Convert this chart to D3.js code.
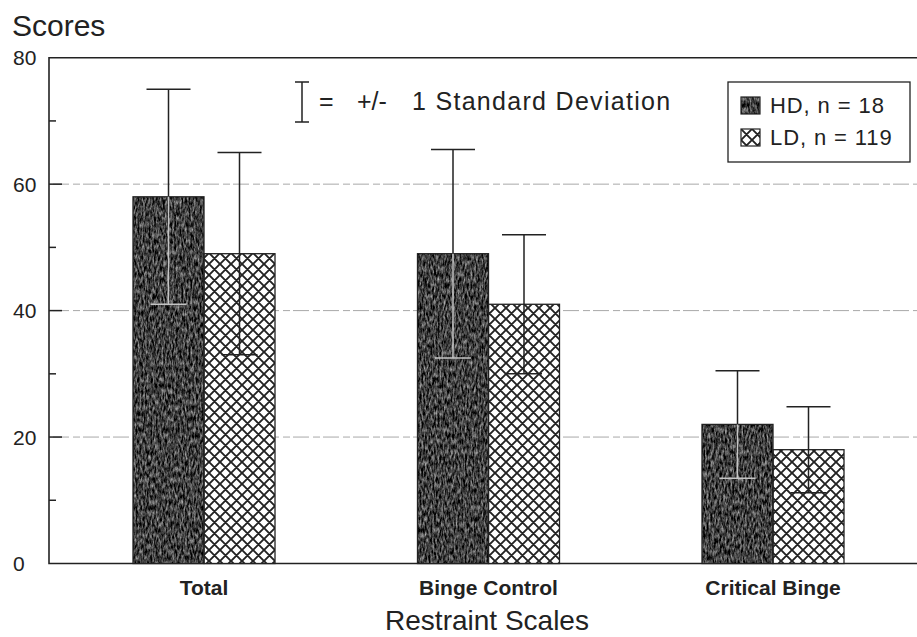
<!DOCTYPE html>
<html><head><meta charset="utf-8">
<script src="https://cdn.jsdelivr.net/npm/d3@7"></script>
<style>body{margin:0;background:#fff}svg{display:block}</style>
</head><body>
<script>
const categories = ["Total", "Binge Control", "Critical Binge"];
const seriesNames = ["HD, n = 18", "LD, n = 119"];
const hdMeans = [58, 49, 22];
const hdSD = [17, 16.5, 8.5];
const ldMeans = [49, 41, 18];
const ldSD = [16, 11, 6.8];
const yTicks = [0, 20, 40, 60, 80];
const yMinorTicks = [10, 30, 50, 70];
const gridValues = [20, 40, 60];

const W = 917, H = 637;
const svg = d3.select("body").append("svg").attr("width", W).attr("height", H);
const defs = svg.append("defs");

// noisy dark texture
const f = defs.append("filter").attr("id", "noise").attr("x", 0).attr("y", 0).attr("width", 1).attr("height", 1)
  .attr("color-interpolation-filters", "sRGB");
f.append("feTurbulence").attr("type", "fractalNoise").attr("baseFrequency", "0.55 0.18").attr("numOctaves", 3).attr("seed", 5).attr("result", "t");
f.append("feColorMatrix").attr("in", "t").attr("type", "matrix")
  .attr("values", "1.1 0 0 0 -0.3  1.1 0 0 0 -0.3  1.1 0 0 0 -0.3  0 0 0 0 1").attr("result", "n");
f.append("feComposite").attr("in", "n").attr("in2", "SourceGraphic").attr("operator", "in");

// crosshatch
const p = defs.append("pattern").attr("id", "hatch").attr("patternUnits", "userSpaceOnUse")
  .attr("width", 11).attr("height", 11);
p.append("rect").attr("width", 11).attr("height", 11).attr("fill", "#fff");
p.append("path").attr("d", "M-1,1 L1,-1 M0,11 L11,0 M10,12 L12,10 M-1,10 L1,12 M0,0 L11,11 M10,-1 L12,1")
  .attr("stroke", "#222").attr("stroke-width", 1.9);

const plotL = 49, plotR = 917, plotT = 57.7, plotB = 563.5;
const y = d3.scaleLinear().domain([0, 80]).range([plotB, plotT]);
const x0 = d3.scalePoint().domain(categories).range([204, 773]);
const x1 = d3.scaleBand().domain(seriesNames).range([-71, 71]).padding(0);

const sans = "Liberation Sans, Arial, sans-serif";

// gridlines
svg.append("g").selectAll("line").data(gridValues).join("line")
  .attr("x1", plotL + 4).attr("x2", plotR).attr("y1", d => y(d)).attr("y2", d => y(d))
  .attr("stroke", "#a8a8a8").attr("stroke-width", 1).attr("stroke-dasharray", "16,4,7,3");

// frame
svg.append("path").attr("d", `M${plotR},${plotT}H${plotL}V${plotB}H${plotR}`)
  .attr("fill", "none").attr("stroke", "#222").attr("stroke-width", 1.6);

// ticks
svg.append("g").selectAll("line").data(yTicks.filter(d => d > 0 && d < 80)).join("line")
  .attr("x1", plotL).attr("x2", plotL + 13).attr("y1", d => y(d)).attr("y2", d => y(d))
  .attr("stroke", "#222").attr("stroke-width", 1.5);
svg.append("g").selectAll("line").data(yMinorTicks).join("line")
  .attr("x1", plotL).attr("x2", plotL + 7).attr("y1", d => y(d)).attr("y2", d => y(d))
  .attr("stroke", "#222").attr("stroke-width", 1.5);
svg.append("g").selectAll("text").data(yTicks).join("text")
  .attr("x", 13).attr("y", d => y(d)).attr("dy", "0.36em")
  .attr("font-family", sans).attr("font-size", 21).attr("fill", "#222")
  .text(d => d);

svg.append("text").attr("x", 12).attr("y", 36)
  .attr("font-family", sans).attr("font-size", 30).attr("fill", "#222")
  .text("Scores");

// bars
const rows = categories.map((c, i) => [
  { cat: c, s: seriesNames[0], v: hdMeans[i], sd: hdSD[i], k: 0 },
  { cat: c, s: seriesNames[1], v: ldMeans[i], sd: ldSD[i], k: 1 }
]).flat();

const bars = svg.append("g");
bars.selectAll("rect.b").data(rows).join("rect").attr("class", "b")
  .attr("x", d => x0(d.cat) + x1(d.s)).attr("width", x1.bandwidth())
  .attr("y", d => y(d.v)).attr("height", d => y(0) - y(d.v))
  .attr("fill", d => d.k === 0 ? "#333" : "url(#hatch)")
  .attr("filter", d => d.k === 0 ? "url(#noise)" : null);
bars.selectAll("rect.o").data(rows).join("rect").attr("class", "o")
  .attr("x", d => x0(d.cat) + x1(d.s)).attr("width", x1.bandwidth())
  .attr("y", d => y(d.v)).attr("height", d => y(0) - y(d.v))
  .attr("fill", "none").attr("stroke", "#222").attr("stroke-width", 1.3);

// error bars
const cx = d => x0(d.cat) + x1(d.s) + x1.bandwidth() / 2;
const eg = svg.append("g");
eg.selectAll("path.up").data(rows).join("path").attr("class", "up")
  .attr("d", d => `M${cx(d)},${y(d.v)}V${y(d.v + d.sd)}M${cx(d) - 22},${y(d.v + d.sd)}H${cx(d) + 22}`)
  .attr("stroke", "#222").attr("stroke-width", 1.5).attr("fill", "none");
eg.selectAll("path.dn").data(rows).join("path").attr("class", "dn")
  .attr("d", d => `M${cx(d)},${y(d.v)}V${y(d.v - d.sd)}M${cx(d) - 18},${y(d.v - d.sd)}H${cx(d) + 18}`)
  .attr("stroke", d => d.k === 0 ? "#c4c4c4" : "#222").attr("stroke-width", 1.5).attr("fill", "none");

// category labels
svg.append("g").selectAll("text").data(categories).join("text")
  .attr("x", d => x0(d)).attr("y", 595).attr("text-anchor", "middle")
  .attr("font-family", sans)
  .attr("font-weight", "bold").attr("font-size", 21).attr("fill", "#222")
  .text(d => d);

svg.append("text").attr("x", 487).attr("y", 630).attr("text-anchor", "middle")
  .attr("font-family", sans).attr("font-size", 28).attr("fill", "#222")
  .text("Restraint Scales");

// SD legend
svg.append("path").attr("d", "M295,82H309M302,82V122M295,122H309")
  .attr("stroke", "#222").attr("stroke-width", 1.5).attr("fill", "none");
const sdText = svg.append("g").attr("font-family", sans).attr("font-size", 25).attr("fill", "#222");
sdText.append("text").attr("x", 319).attr("y", 110).text("=");
sdText.append("text").attr("x", 357).attr("y", 110).text("+/-");
sdText.append("text").attr("x", 412).attr("y", 110).attr("letter-spacing", 1.3).text("1 Standard Deviation");

// series legend
svg.append("rect").attr("x", 728).attr("y", 82).attr("width", 182).attr("height", 80)
  .attr("fill", "#fff").attr("stroke", "#222").attr("stroke-width", 1.3);
const lg = svg.append("g").selectAll("g").data(seriesNames).join("g")
  .attr("transform", (d, i) => `translate(741,${97 + i * 32})`);
lg.append("rect").attr("width", 19).attr("height", 17)
  .attr("fill", (d, i) => i === 0 ? "#333" : "url(#hatch)")
  .attr("filter", (d, i) => i === 0 ? "url(#noise)" : null);
lg.append("rect").attr("width", 19).attr("height", 17).attr("fill", "none").attr("stroke", "#222").attr("stroke-width", 1.2);
lg.append("text").attr("x", 29).attr("y", 16)
  .attr("font-family", sans).attr("font-size", 22).attr("letter-spacing", 0.9).attr("fill", "#222")
  .text(d => d);
</script>
</body></html>
